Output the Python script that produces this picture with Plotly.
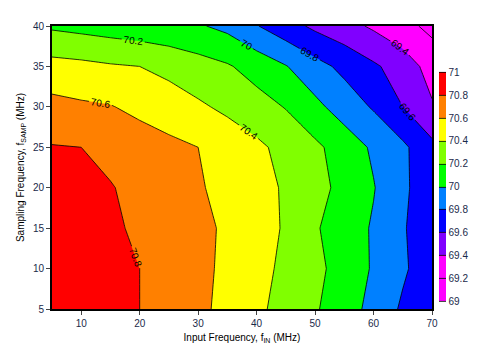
import plotly.graph_objects as go

# Input frequency (MHz) and sampling frequency (MHz) grid
f_in = [5, 10, 15, 20, 25, 30, 35, 40, 45, 50, 55, 60, 65, 70]
f_samp = [5, 10, 15, 20, 25, 30, 35, 40]

snr_fs05 = [70.95, 70.90, 70.86, 70.80, 70.72, 70.64, 70.55, 70.44, 70.33, 70.22, 70.09, 69.94, 69.77, 69.62]
snr_fs10 = [70.95, 70.90, 70.86, 70.80, 70.73, 70.65, 70.56, 70.46, 70.36, 70.25, 70.12, 69.98, 69.83, 69.68]
snr_fs15 = [70.93, 70.88, 70.83, 70.77, 70.71, 70.65, 70.57, 70.48, 70.38, 70.22, 70.10, 69.98, 69.82, 69.66]
snr_fs20 = [70.90, 70.86, 70.81, 70.75, 70.68, 70.62, 70.54, 70.46, 70.38, 70.27, 70.14, 70.01, 69.84, 69.67]
snr_fs25 = [70.81, 70.80, 70.75, 70.70, 70.65, 70.60, 70.52, 70.44, 70.34, 70.24, 70.11, 69.97, 69.84, 69.65]
snr_fs30 = [70.66, 70.63, 70.61, 70.55, 70.49, 70.43, 70.36, 70.28, 70.19, 70.05, 69.91, 69.78, 69.60, 69.42]
snr_fs35 = [70.47, 70.45, 70.42, 70.40, 70.35, 70.28, 70.22, 70.12, 70.01, 69.87, 69.75, 69.63, 69.51, 69.32]
snr_fs40 = [70.17, 70.14, 70.11, 70.08, 70.05, 70.02, 69.95, 69.81, 69.68, 69.56, 69.47, 69.37, 69.26, 69.15]

snr = [snr_fs05, snr_fs10, snr_fs15, snr_fs20, snr_fs25, snr_fs30, snr_fs35, snr_fs40]

# band colours from 69 (bottom) to 71 (top)
band_colors = ["#FF00FF", "#8000FF", "#0000FF", "#0080FF", "#00FFFF",
               "#00FF00", "#80FF00", "#FFFF00", "#FF8000", "#FF0000"]
colorbar_ticks = [69, 69.2, 69.4, 69.6, 69.8, 70, 70.2, 70.4, 70.6, 70.8, 71]

x_ticks = [10, 20, 30, 40, 50, 60, 70]
y_ticks = [5, 10, 15, 20, 25, 30, 35, 40]

# stepped colorscale: one flat step per contour band (plus the background step)
n = len(band_colors)
steps = n + 1
cscale = [[0.0, band_colors[0]], [1 / steps, band_colors[0]]]
for j, c in enumerate(band_colors):
    cscale.append([(j + 1) / steps, c])
    cscale.append([(j + 2) / steps, c])

font = "Liberation Sans, Arial, sans-serif"

fig = go.Figure(go.Contour(
    x=f_in, y=f_samp, z=snr,
    colorscale=cscale,
    zmin=69, zmax=71,
    contours=dict(start=69, end=71, size=0.2, coloring="fill",
                  showlabels=True,
                  labelfont=dict(size=10, color="black", family=font)),
    line=dict(color="black", width=0.8, smoothing=0),
    colorbar=dict(thickness=7, len=0.81, lenmode="fraction", ypad=0, xpad=0,
                  x=1.018, xanchor="left", y=0.432, yanchor="middle",
                  outlinewidth=0, tickvals=colorbar_ticks,
                  ticktext=[f"{v:g}" for v in colorbar_ticks],
                  ticks="", tickfont=dict(size=10, color="#1a2a4a", family=font)),
))

# the page body adds an 8 px offset, so the figure is sized to fit the window
fig.update_layout(
    width=473, height=353,
    margin=dict(l=39, r=49, t=14, b=52),
    paper_bgcolor="white", plot_bgcolor="white",
    font=dict(family=font, size=10, color="black"),
    xaxis=dict(range=[5, 70], tickvals=x_ticks, ticks="outside", ticklen=4,
               showline=True, linecolor="black", linewidth=2, mirror=True,
               showgrid=False, zeroline=False,
               tickfont=dict(size=10, color="#1a2a4a"),
               title=dict(text="Input Frequency, f<sub>IN</sub> (MHz)",
                          font=dict(size=10), standoff=6)),
    yaxis=dict(range=[5, 40], tickvals=y_ticks, ticks="outside", ticklen=4,
               showline=True, linecolor="black", linewidth=2, mirror=True,
               showgrid=False, zeroline=False,
               tickfont=dict(size=10, color="#1a2a4a"),
               title=dict(text="Sampling Frequency, f<sub>SAMP</sub> (MHz)",
                          font=dict(size=10), standoff=6)),
)

fig.write_html("out.html")
